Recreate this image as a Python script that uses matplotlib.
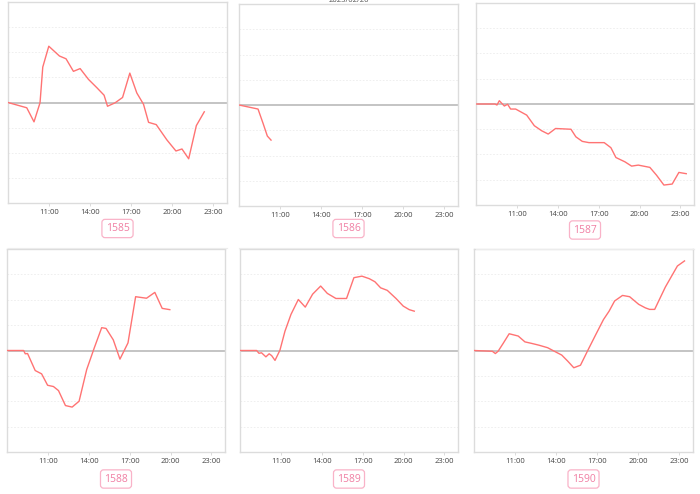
import numpy as np
import matplotlib
matplotlib.use("Agg")
import matplotlib.pyplot as plt

# ------------------------------------------------------------------------------------------
# data: hours of the day, and change in grid units (zero = start value)

codes = ["1585", "1586", "1587", "1588", "1589", "1590"]

hours_1585 = [8.0, 9.37, 9.9, 10.34, 10.54, 10.98, 11.76, 12.24, 12.78, 13.27, 13.88, 14.49, 15.02,
              15.27, 15.83, 16.37, 16.9, 17.41, 17.9, 18.27, 18.83, 19.61, 20.27, 20.71, 21.2, 21.76, 22.34]
change_1585 = [0.0, -0.21, -0.77, -0.01, 1.41, 2.24, 1.85, 1.74, 1.24, 1.35, 0.92, 0.59, 0.29,
               -0.15, -0.01, 0.2, 1.17, 0.38, -0.07, -0.79, -0.88, -1.49, -1.93, -1.85, -2.24, -0.92, -0.37]

hours_1586 = [8.0, 9.39, 9.76, 10.07, 10.34]
change_1586 = [0.0, -0.16, -0.73, -1.23, -1.39]

hours_1587 = [8.0, 9.39, 9.54, 9.71, 10.08, 10.32, 10.54, 10.91, 11.72, 12.28, 12.82, 13.3, 13.84, 14.97,
              15.33, 15.8, 16.29, 17.41, 17.9, 18.27, 18.93, 19.42, 19.91, 20.76, 21.25, 21.79, 22.4, 22.89, 23.43]
change_1587 = [0.0, 0.0, -0.04, 0.13, -0.08, -0.01, -0.2, -0.2, -0.44, -0.86, -1.06, -1.19, -0.97, -1.0,
               -1.3, -1.48, -1.53, -1.53, -1.73, -2.12, -2.29, -2.46, -2.42, -2.51, -2.82, -3.21, -3.17, -2.71, -2.76]

hours_1588 = [8.0, 9.22, 9.34, 9.51, 10.07, 10.54, 10.98, 11.41, 11.78, 12.29, 12.78, 13.29, 13.85,
              14.41, 14.95, 15.27, 15.8, 16.29, 16.88, 17.44, 18.24, 18.85, 19.39, 19.95]
change_1588 = [0.0, 0.0, -0.13, -0.12, -0.79, -0.92, -1.37, -1.42, -1.58, -2.17, -2.23, -2.0, -0.75,
               0.11, 0.9, 0.87, 0.42, -0.34, 0.3, 2.12, 2.06, 2.29, 1.66, 1.61]

hours_1589 = [8.0, 9.22, 9.39, 9.58, 9.9, 10.14, 10.32, 10.57, 10.93, 11.3, 11.74, 12.28, 12.79, 13.33,
              13.92, 14.41, 15.04, 15.82, 16.36, 16.95, 17.49, 17.9, 18.32, 18.81, 19.45, 19.98, 20.42, 20.79]
change_1589 = [0.0, 0.0, -0.11, -0.09, -0.25, -0.13, -0.2, -0.39, 0.01, 0.76, 1.42, 2.01, 1.71, 2.22,
               2.54, 2.25, 2.05, 2.05, 2.87, 2.93, 2.83, 2.71, 2.47, 2.37, 2.05, 1.75, 1.61, 1.55]

hours_1590 = [8.0, 9.34, 9.56, 9.76, 10.13, 10.57, 11.23, 11.72, 12.21, 12.74, 13.38, 13.87, 14.41, 14.85,
              15.29, 15.78, 16.31, 16.9, 17.46, 17.87, 18.27, 18.85, 19.37, 20.03, 20.52, 20.83, 21.2,
              21.98, 22.86, 23.38]
change_1590 = [0.0, -0.03, -0.12, -0.03, 0.28, 0.66, 0.57, 0.34, 0.28, 0.21, 0.11, -0.03, -0.18, -0.42,
               -0.68, -0.58, 0.0, 0.63, 1.22, 1.55, 1.95, 2.17, 2.12, 1.82, 1.68, 1.62, 1.62,
               2.5, 3.33, 3.53]

series_hours = [hours_1585, hours_1586, hours_1587, hours_1588, hours_1589, hours_1590]
series_change = [change_1585, change_1586, change_1587, change_1588, change_1589, change_1590]

tick_hours = [11, 14, 17, 20, 23]
tick_labels = ["11:00", "14:00", "17:00", "20:00", "23:00"]

# ------------------------------------------------------------------------------------------
# layout: axes boxes in pixels (left, top, right, bottom)

W, H = 700, 494
boxes = [
    (8, 2, 227, 203), (239, 4, 458, 206), (476, 3, 694, 205),
    (7, 249, 225, 452), (240, 249, 458, 452), (474, 249, 693, 452),
]
label_y = [228.5, 228.5, 230, 479, 479, 479]

LINE_COLOR = "#ff7373"
PINK = "#f07fa3"

plt.rcParams["font.family"] = ["Open Sans", "DejaVu Sans"]

fig = plt.figure(figsize=(W / 100, H / 100), dpi=100)

for i, (l, t, r, b) in enumerate(boxes):
    ax = fig.add_axes([l / W, 1 - b / H, (r - l) / W, (b - t) / H])
    ax.plot(series_hours[i], series_change[i], color=LINE_COLOR, lw=1.0, zorder=3)
    ax.axhline(0, color="#b4b4b4", lw=1.1, zorder=2)
    for g in [-3, -2, -1, 1, 2, 3]:
        ax.axhline(g, color="#ececec", lw=0.6, ls=(0, (2, 2)), zorder=1)
    ax.set_xlim(8, 24)
    ax.set_ylim(-4, 4)
    ax.set_yticks([])
    ax.set_xticks(tick_hours)
    ax.set_xticklabels(tick_labels)
    ax.tick_params(axis="x", labelsize=5.5, colors="#444444", length=2, width=0.5, pad=2,
                   color="#cccccc")
    for s in ax.spines.values():
        s.set_color("#dcdcdc")
        s.set_linewidth(1.0)

    cx = (l + r) / 2 / W
    fig.text(cx, 1 - label_y[i] / H, codes[i], ha="center", va="center", fontsize=7.5, color=PINK,
             bbox=dict(boxstyle="round,pad=0.35,rounding_size=0.3", fc="white", ec="#f9b3c8", lw=0.9))

    # faint separator under each row of panels
    sep_y = 1 - (label_y[i] + 19) / H
    fig.add_artist(plt.Line2D([l / W, r / W], [sep_y, sep_y], color="#ececec", lw=0.8))

# date caption at the very top, cut by the edge as in the source
fig.text((239 + 458) / 2 / W, 1.0, "2023/02/20", ha="center", va="center", fontsize=5.5, color="#555555")

fig.savefig("out.png", dpi=100)
